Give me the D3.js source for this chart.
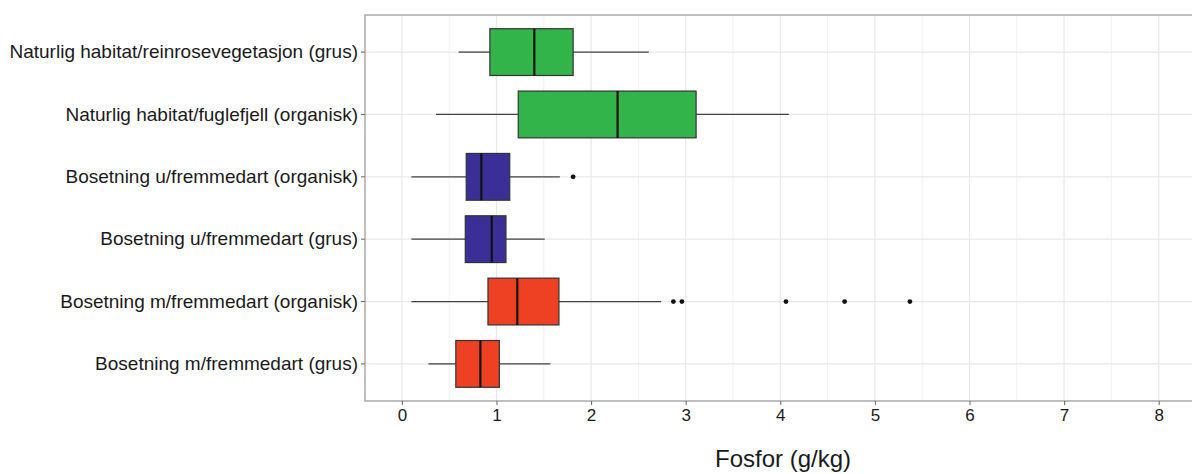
<!DOCTYPE html>
<html>
<head>
<meta charset="utf-8">
<script src="https://cdn.jsdelivr.net/npm/d3@7"></script>
<style>
  body { margin: 0; background: #fff; }
  text { font-family: "Liberation Sans", Arial, sans-serif; fill: #1a1a1a; }
</style>
</head>
<body>
<div id="chart"></div>
<script>
// categories, top to bottom
let categories = [
  "Naturlig habitat/reinrosevegetasjon (grus)",
  "Naturlig habitat/fuglefjell (organisk)",
  "Bosetning u/fremmedart (organisk)",
  "Bosetning u/fremmedart (grus)",
  "Bosetning m/fremmedart (organisk)",
  "Bosetning m/fremmedart (grus)"
];
let groups = ["natur", "natur", "uten", "uten", "med", "med"];

// box statistics (g/kg)
let whiskerLow = [0.60, 0.36, 0.10, 0.10, 0.10, 0.28];
let q1         = [0.93, 1.23, 0.68, 0.67, 0.91, 0.57];
let median     = [1.40, 2.28, 0.84, 0.95, 1.22, 0.83];
let q3         = [1.81, 3.11, 1.14, 1.10, 1.66, 1.03];
let whiskerHigh= [2.61, 4.09, 1.67, 1.51, 2.74, 1.57];
let outliers   = [[], [], [1.81], [], [2.87, 2.96, 4.06, 4.68, 5.37], []];

let xTicks = [0, 1, 2, 3, 4, 5, 6, 7, 8];
let xMinor = [0.5, 1.5, 2.5, 3.5, 4.5, 5.5, 6.5, 7.5, 8.5];

let colors = {
  natur: "#33b44a",
  uten: "#3b2f97",
  med: "#ee4123"
};

let width = 1192, height = 474;
let margin = { top: 15, right: -40, bottom: 73, left: 365 };
let innerW = width - margin.left - margin.right;
let innerH = height - margin.top - margin.bottom;

let svg = d3.select("#chart").append("svg")
  .attr("width", width)
  .attr("height", height);

let g = svg.append("g")
  .attr("transform", "translate(" + margin.left + "," + margin.top + ")");

// x scale: 0 sits ~37px right of the panel edge, ~94.6px per unit
let x = d3.scaleLinear()
  .domain([-0.39, -0.39 + innerW / 94.6])
  .range([0, innerW]);

let y = d3.scaleBand()
  .domain(categories)
  .range([0, innerH])
  .paddingOuter(0.22)
  .paddingInner(0.25);

let bw = y.bandwidth();

// gridlines
g.selectAll(".minor").data(xMinor).enter().append("line")
  .attr("x1", d => x(d)).attr("x2", d => x(d))
  .attr("y1", 0).attr("y2", innerH)
  .attr("stroke", "#f2f2f2").attr("stroke-width", 1);

g.selectAll(".major").data(xTicks).enter().append("line")
  .attr("x1", d => x(d)).attr("x2", d => x(d))
  .attr("y1", 0).attr("y2", innerH)
  .attr("stroke", "#e8e8e8").attr("stroke-width", 1.2);

g.selectAll(".hgrid").data(categories).enter().append("line")
  .attr("x1", 0).attr("x2", innerW)
  .attr("y1", d => y(d) + bw / 2).attr("y2", d => y(d) + bw / 2)
  .attr("stroke", "#e8e8e8").attr("stroke-width", 1.2);

// whiskers
categories.forEach((c, i) => {
  let cy = y(c) + bw / 2;
  g.append("line")
    .attr("x1", x(whiskerLow[i])).attr("x2", x(q1[i]))
    .attr("y1", cy).attr("y2", cy)
    .attr("stroke", "#444").attr("stroke-width", 1.3);
  g.append("line")
    .attr("x1", x(q3[i])).attr("x2", x(whiskerHigh[i]))
    .attr("y1", cy).attr("y2", cy)
    .attr("stroke", "#444").attr("stroke-width", 1.3);
});

// boxes
g.selectAll(".box").data(categories).enter().append("rect")
  .attr("x", (d, i) => x(q1[i]))
  .attr("y", d => y(d))
  .attr("width", (d, i) => x(q3[i]) - x(q1[i]))
  .attr("height", bw)
  .attr("fill", (d, i) => colors[groups[i]])
  .attr("stroke", "#333")
  .attr("stroke-width", 1.2);

// medians
g.selectAll(".med").data(categories).enter().append("line")
  .attr("x1", (d, i) => x(median[i])).attr("x2", (d, i) => x(median[i]))
  .attr("y1", d => y(d)).attr("y2", d => y(d) + bw)
  .attr("stroke", "#111").attr("stroke-width", 2.2);

// outliers
categories.forEach((c, i) => {
  g.selectAll(null).data(outliers[i]).enter().append("circle")
    .attr("cx", d => x(d))
    .attr("cy", y(c) + bw / 2)
    .attr("r", 2.4)
    .attr("fill", "#111");
});

// panel border
g.append("rect")
  .attr("x", 0).attr("y", 0)
  .attr("width", innerW).attr("height", innerH)
  .attr("fill", "none")
  .attr("stroke", "#aaa")
  .attr("stroke-width", 1.5);

// x axis
let xAxis = g.append("g")
  .attr("transform", "translate(0," + innerH + ")")
  .call(d3.axisBottom(x).tickValues(xTicks).tickSize(4).tickPadding(4).tickFormat(d3.format("d")));
xAxis.select(".domain").remove();
xAxis.selectAll("line").attr("stroke", "#666");
xAxis.selectAll("text").style("font-size", "17px").attr("fill", "#1a1a1a");

// y axis
let yAxis = g.append("g")
  .call(d3.axisLeft(y).tickSize(4).tickPadding(3));
yAxis.select(".domain").remove();
yAxis.selectAll("line").attr("stroke", "#666");
yAxis.selectAll("text").style("font-size", "19px").attr("fill", "#1a1a1a");

// axis title
svg.append("text")
  .attr("x", 783)
  .attr("y", 467)
  .attr("text-anchor", "middle")
  .style("font-size", "24px")
  .text("Fosfor (g/kg)");
</script>
</body>
</html>
